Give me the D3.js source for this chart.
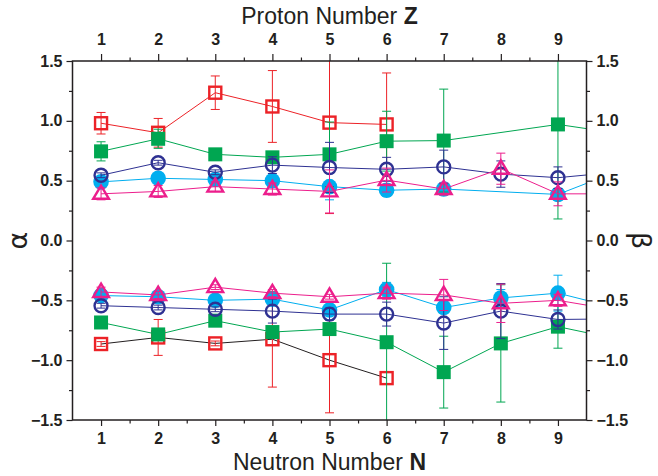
<!DOCTYPE html>
<html><head><meta charset="utf-8">
<script src="https://cdn.jsdelivr.net/npm/d3@7"></script>
<style>body{margin:0;background:#fff;} svg{display:block;}</style>
</head><body>
<script>
const N = [1,2,3,4,5,6,7,8,9,10];
const xTicks = [1,2,3,4,5,6,7,8,9];
const yTicks = [-1.5,-1.0,-0.5,0.0,0.5,1.0,1.5];

// upper (alpha) group
const redUp      = [0.98, 0.90, 1.235, 1.12, 0.985, 0.97, null, null, null, null];
const redUpErr   = [0.09, 0.12, 0.14, 0.30, 0.76, 0.43, null, null, null, null];
const greenUp    = [0.745, 0.85, 0.72, 0.695, 0.72, 0.83, 0.835, null, 0.97, 0.90];
const greenUpErr = [0.08, 0.08, 0.02, 0.03, 0.27, 0.25, 0.43, null, 0.79, 0];
const navyUp     = [0.545, 0.65, 0.57, 0.63, 0.61, 0.595, 0.615, 0.555, 0.525, 0.57];
const navyUpErr  = [0.02, 0.02, 0.02, 0.07, 0.21, 0.10, 0.14, 0.11, 0.09, 0];
const cyanUp     = [0.49, 0.52, 0.51, 0.50, 0.45, 0.42, 0.43, null, 0.385, 0.57];
const cyanUpErr  = [0.02, 0.01, 0.04, 0.03, 0.11, 0.05, 0.05, null, 0.05, 0];
const pinkUp     = [0.39, 0.41, 0.45, 0.43, 0.41, 0.505, 0.43, 0.60, 0.39, 0.39];
const pinkUpErr  = [0.05, 0.05, 0.04, 0.05, 0.18, 0.10, 0.05, 0.13, 0.10, 0];

// lower (beta) group
const redLo      = [-0.865, -0.81, -0.86, -0.825, -1.0, -1.15, null, null, null, null];
const redLoErr   = [0.02, 0.15, 0.02, 0.40, 0.44, 0.0, null, null, null, null];
const greenLo    = [-0.685, -0.785, -0.67, -0.765, -0.74, -0.85, -1.10, -0.86, -0.72, -0.82];
const greenLoErr = [0.02, 0.04, 0.04, 0.03, 0.03, 0.66, 0.30, 0.49, 0.18, 0];
const navyLo     = [-0.545, -0.56, -0.575, -0.59, -0.615, -0.615, -0.69, -0.59, -0.66, -0.655];
const navyLoErr  = [0.02, 0.02, 0.02, 0.10, 0.05, 0.10, 0.22, 0.23, 0.08, 0];
const cyanLo     = [-0.46, -0.47, -0.50, -0.49, -0.58, -0.41, -0.56, -0.48, -0.44, -0.56];
const cyanLoErr  = [0.02, 0.03, 0.03, 0.03, 0.03, 0.06, 0.05, 0.07, 0.15, 0];
const pinkLo     = [-0.43, -0.455, -0.39, -0.44, -0.47, -0.44, -0.455, -0.525, -0.50, -0.58];
const pinkLoErr  = [0.04, 0.03, 0.02, 0.03, 0.02, 0.05, 0.13, 0.16, 0.05, 0];

const C = {red:"#ec2227", green:"#00a651", navy:"#2e3192", cyan:"#00aeef", pink:"#ec1e8c", black:"#231f20"};

const W = 658, H = 476;
const L = 72.5, R = 586.5, T = 61, B = 420;
const x = d3.scaleLinear().domain([0.5, 9.5]).range([L, R]);
const y = d3.scaleLinear().domain([-1.5, 1.5]).range([B, T]);

const svg = d3.select("body").append("svg").attr("width", W).attr("height", H);
svg.append("defs").append("clipPath").attr("id","clip")
  .append("rect").attr("x", L).attr("y", T).attr("width", R-L).attr("height", B-T);

const plot = svg.append("g").attr("clip-path","url(#clip)");

const series = [
  {v: redUp, e: redUpErr, col: C.red, line: C.red, shape: "osq"},
  {v: redLo, e: redLoErr, col: C.red, line: C.black, shape: "osq"},
  {v: cyanUp, e: cyanUpErr, col: C.cyan, line: C.cyan, shape: "fci"},
  {v: cyanLo, e: cyanLoErr, col: C.cyan, line: C.cyan, shape: "fci"},
  {v: greenUp, e: greenUpErr, col: C.green, line: C.green, shape: "fsq"},
  {v: greenLo, e: greenLoErr, col: C.green, line: C.green, shape: "fsq"},
  {v: navyUp, e: navyUpErr, col: C.navy, line: C.navy, shape: "oci"},
  {v: navyLo, e: navyLoErr, col: C.navy, line: C.navy, shape: "oci"},
  {v: pinkUp, e: pinkUpErr, col: C.pink, line: C.pink, shape: "otr"},
  {v: pinkLo, e: pinkLoErr, col: C.pink, line: C.pink, shape: "otr"},
];

const lineGen = d3.line().x(d => x(d.n)).y(d => y(d.v));

series.forEach(s => {
  const pts = N.map((n,i) => ({n, v: s.v[i], e: s.e[i]})).filter(d => d.v !== null);
  const g = plot.append("g");
  g.append("path").attr("d", lineGen(pts)).attr("fill","none")
    .attr("stroke", s.line).attr("stroke-width", 1);
  // error bars
  pts.filter(d => d.e > 0).forEach(d => {
    const cx = x(d.n), y1 = y(d.v + d.e), y2 = y(d.v - d.e);
    g.append("line").attr("x1",cx).attr("x2",cx).attr("y1",y1).attr("y2",y2)
      .attr("stroke", s.col).attr("stroke-width",1);
    [y1,y2].forEach(yy => g.append("line").attr("x1",cx-4.5).attr("x2",cx+4.5)
      .attr("y1",yy).attr("y2",yy).attr("stroke", s.col).attr("stroke-width",1));
  });
  // markers
  pts.forEach(d => {
    const cx = x(d.n), cy = y(d.v);
    if (s.shape === "osq") {
      g.append("rect").attr("x",cx-6).attr("y",cy-6).attr("width",12).attr("height",12)
        .attr("fill","none").attr("stroke",s.col).attr("stroke-width",2.4);
    } else if (s.shape === "fsq") {
      g.append("rect").attr("x",cx-7).attr("y",cy-7).attr("width",14).attr("height",14)
        .attr("fill",s.col);
    } else if (s.shape === "oci") {
      g.append("circle").attr("cx",cx).attr("cy",cy).attr("r",6.5)
        .attr("fill","none").attr("stroke",s.col).attr("stroke-width",2.4);
    } else if (s.shape === "fci") {
      g.append("circle").attr("cx",cx).attr("cy",cy).attr("r",7.8).attr("fill",s.col);
    } else if (s.shape === "otr") {
      const r = 8.3;
      const p = [[cx, cy-r], [cx+r*0.95, cy+r*0.6], [cx-r*0.95, cy+r*0.6]];
      g.append("path").attr("d","M"+p.map(q=>q.join(",")).join("L")+"Z")
        .attr("fill","none").attr("stroke",s.col).attr("stroke-width",2.4).attr("stroke-linejoin","miter");
    }
  });
});

// axes
const tickFont = "Liberation Sans, Arial, sans-serif";
function styleAxis(g){
  g.select(".domain").remove();
  g.selectAll("line").attr("stroke","#231f20").attr("stroke-width",1.2);
  g.selectAll("text").attr("font-family",tickFont).attr("font-size",16).attr("font-weight","bold").attr("fill","#231f20");
}
const xMinor = d3.range(1.5, 9.0, 1);
const yMinor = [-1.25,-0.75,-0.25,0.25,0.75,1.25];

svg.append("g").attr("transform",`translate(0,${B})`)
  .call(d3.axisBottom(x).tickValues(xTicks).tickFormat(d3.format("d")).tickSize(6).tickPadding(7)).call(styleAxis);
svg.append("g").attr("transform",`translate(0,${B})`)
  .call(d3.axisBottom(x).tickValues(xMinor).tickFormat("").tickSize(3.5)).call(styleAxis);

svg.append("g").attr("transform",`translate(0,${T})`)
  .call(d3.axisTop(x).tickValues(xTicks).tickFormat(d3.format("d")).tickSize(7).tickPadding(9)).call(styleAxis);
svg.append("g").attr("transform",`translate(0,${T})`)
  .call(d3.axisTop(x).tickValues(xMinor).tickFormat("").tickSize(3.5)).call(styleAxis);

svg.append("g").attr("transform",`translate(${L},0)`)
  .call(d3.axisLeft(y).tickValues(yTicks).tickFormat(d3.format(".1f")).tickSize(6).tickPadding(4)).call(styleAxis);
svg.append("g").attr("transform",`translate(${L},0)`)
  .call(d3.axisLeft(y).tickValues(yMinor).tickFormat("").tickSize(3.5)).call(styleAxis);

svg.append("g").attr("transform",`translate(${R},0)`)
  .call(d3.axisRight(y).tickValues(yTicks).tickFormat(d3.format(".1f")).tickSize(6).tickPadding(4)).call(styleAxis);
svg.append("g").attr("transform",`translate(${R},0)`)
  .call(d3.axisRight(y).tickValues(yMinor).tickFormat("").tickSize(3.5)).call(styleAxis);

// frame
svg.append("rect").attr("x",L).attr("y",T).attr("width",R-L).attr("height",B-T)
  .attr("fill","none").attr("stroke","#231f20").attr("stroke-width",1.5);

// titles
const titleFont = "Liberation Sans, Arial, sans-serif";
const tTop = svg.append("text").attr("x",(L+R)/2).attr("y",24).attr("text-anchor","middle")
  .attr("font-family",titleFont).attr("font-size",23).attr("fill","#231f20");
tTop.append("tspan").text("Proton Number ");
tTop.append("tspan").attr("font-weight","bold").text("Z");

const tBot = svg.append("text").attr("x",(L+R)/2).attr("y",470).attr("text-anchor","middle")
  .attr("font-family",titleFont).attr("font-size",23).attr("fill","#231f20");
tBot.append("tspan").text("Neutron Number ");
tBot.append("tspan").attr("font-weight","bold").text("N");

svg.append("text").attr("transform",`translate(27,${y(0)}) rotate(-90)`).attr("text-anchor","middle")
  .attr("font-family","DejaVu Sans, sans-serif").attr("font-size",27).attr("fill","#231f20").text("α");
svg.append("text").attr("transform",`translate(632,${y(0)}) rotate(90)`).attr("text-anchor","middle")
  .attr("font-family","DejaVu Sans, sans-serif").attr("font-size",27).attr("fill","#231f20").text("β");
</script>
</body></html>
